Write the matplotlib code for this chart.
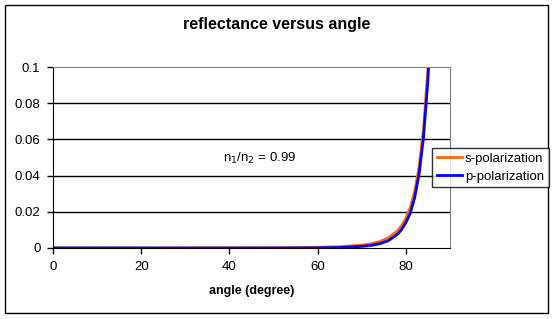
import matplotlib.pyplot as plt
from matplotlib.patches import Rectangle

plt.rcParams['font.family'] = ['Liberation Sans', 'DejaVu Sans']

# angle of incidence (degree) and reflectance
angles = [0, 10, 20, 30, 40, 50, 55, 60, 65, 70, 72, 74, 76, 78, 79, 80, 81, 82, 83, 84, 85, 86]
r_s = [0.00003, 0.00003, 0.00003, 0.00004, 0.00005, 0.0001, 0.00018, 0.0004, 0.00073, 0.0016,
       0.0023, 0.0035, 0.0055, 0.0093, 0.0122, 0.0164, 0.0224, 0.0313, 0.045, 0.0658, 0.099, 0.151]
r_p = [0.00003, 0.00002, 0.00001, 0.000005, 0.0, 0.00002, 0.00005, 0.00009, 0.00025, 0.0009,
       0.0014, 0.0023, 0.0040, 0.0074, 0.0101, 0.0140, 0.0193, 0.0279, 0.041, 0.0612, 0.093, 0.145]
x_ticks = [0, 20, 40, 60, 80]
y_ticks = [0, 0.02, 0.04, 0.06, 0.08, 0.1]
y_labels = ['0', '0.02', '0.04', '0.06', '0.08', '0.1']

fig = plt.figure(figsize=(5.54, 3.19), dpi=100)
ax = fig.add_axes([53/554, 1-248/319, 397/554, 181/319])

ls, = ax.plot(angles, r_s, color='#FF6600', lw=2.0, label='s-polarization')
lp, = ax.plot(angles, r_p, color='#0000FF', lw=2.0, label='p-polarization')

ax.set_xlim(0, 90)
ax.set_ylim(0, 0.1)
ax.set_xticks(x_ticks)
ax.set_yticks(y_ticks)
ax.set_yticklabels(y_labels)
for y in y_ticks[1:-1]:
    ax.axhline(y, color='black', lw=1.0, zorder=0)

for s in ['top', 'right']:
    ax.spines[s].set_color('#808080')
ax.spines['left'].set_color('black')
ax.spines['bottom'].set_color('black')
ax.tick_params(direction='out', length=4, width=1, labelsize=9.5, pad=5)

ax.text(46.9, 0.0497, 'n$_1$/n$_2$ = 0.99', ha='center', va='center', fontsize=9.5)
ax.set_xlabel('angle (degree)', fontsize=9, fontweight='bold', labelpad=9)
fig.suptitle('reflectance versus angle', fontsize=11.5, fontweight='bold', y=1-25/319, va='center')

leg = fig.legend(handles=[ls, lp], loc='center left', bbox_to_anchor=(432/554, 1-167.5/319),
                 fontsize=9.5, frameon=True, fancybox=False, edgecolor='black',
                 handlelength=1.9, handletextpad=0.25, borderpad=0.35, labelspacing=0.45,
                 borderaxespad=0)
leg.get_frame().set_linewidth(1.0)

fig.patches.append(Rectangle((5/554, 6/319), 543/554, 308/319, transform=fig.transFigure,
                             fill=False, edgecolor='black', lw=1.0))

fig.savefig('out.png', dpi=100)
